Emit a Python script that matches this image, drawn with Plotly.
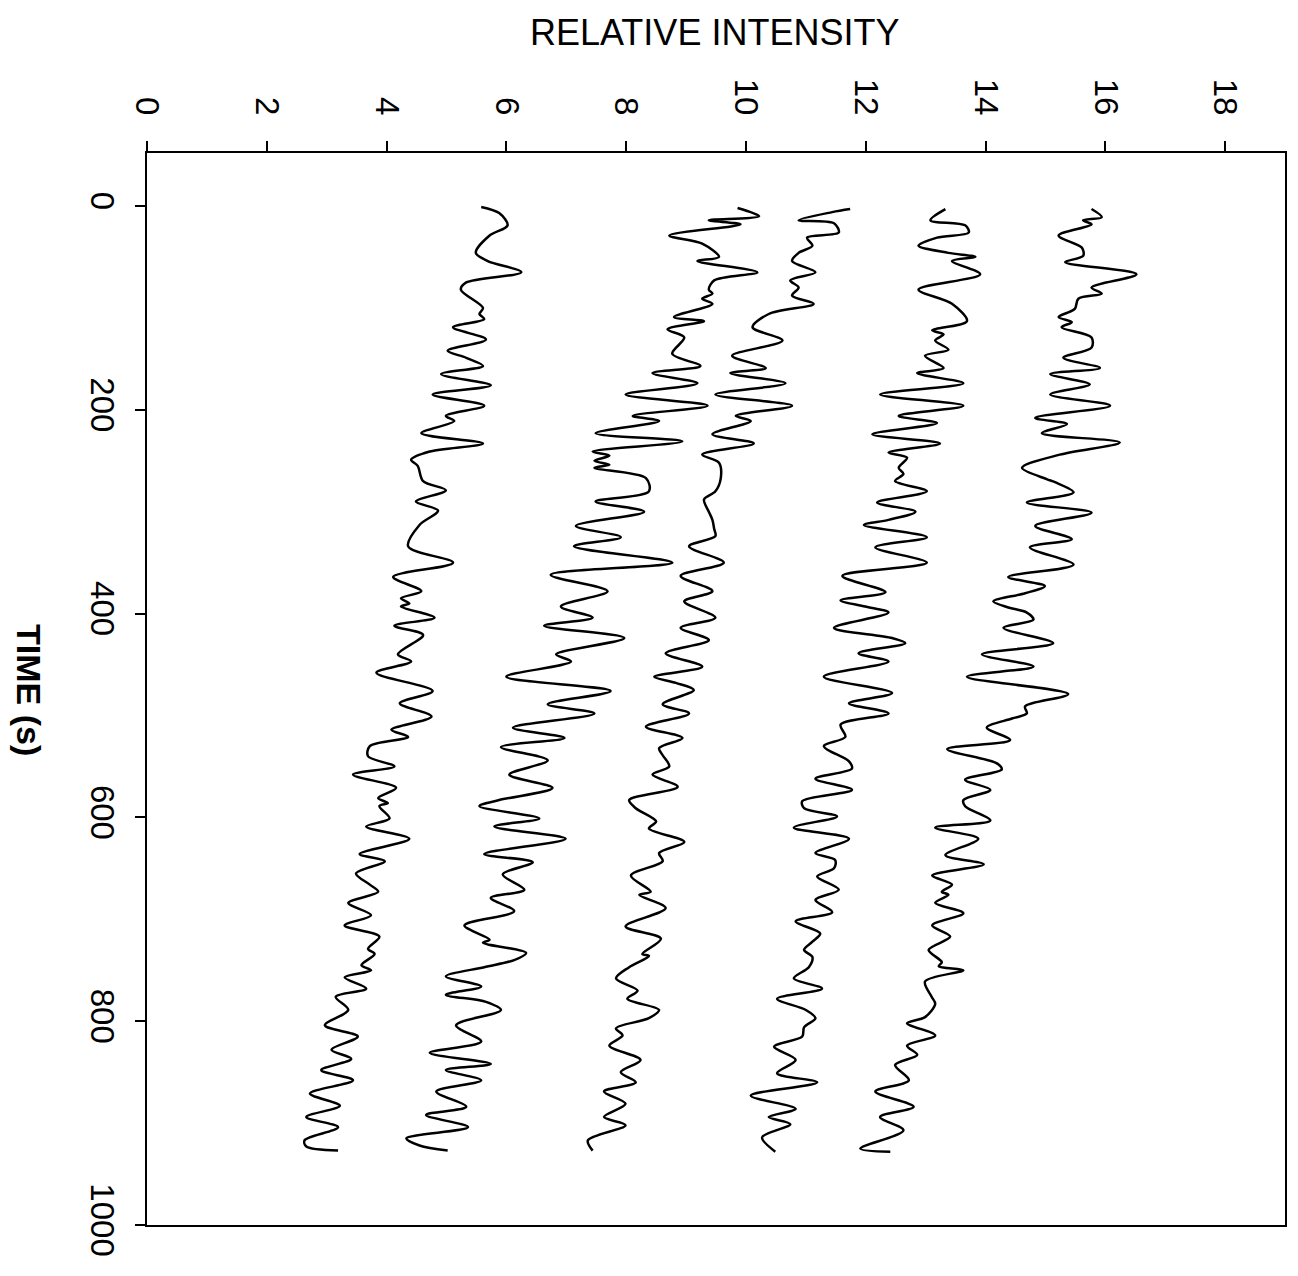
import plotly.graph_objects as go

# ---- data (time in s, relative intensity) ----
t1 = [3,11,14,18,29,41,49,55,67,80,86,91,101,109,114,119,129,139,149,
      159,165,175,185,196,208,214,223,232,244,257,268,271,281,291,301,
      314,327,335,352,364,373,380,388,394,399,406,414,429,440,452,462,
      479,491,498,503,512,524,533,547,553,563,573,583,589,603,610,621,
      637,646,657,666,673,676,684,694,706,717,730,742,746,750,761,776,
      783,796,802,814,824,833,843,858,869,884,894,907,925,928]
v1 = [15.77,15.94,15.63,15.77,15.22,15.61,15.63,15.33,16.52,15.77,15.94,15.55,15.49,15.22,15.44,15.27,15.77,15.77,15.30,
      15.91,15.08,15.74,15.08,16.08,14.83,15.36,14.94,16.24,15.24,14.61,15.02,15.16,15.47,14.69,15.77,
      14.83,15.44,14.74,15.47,14.38,14.99,14.66,14.13,14.38,14.69,14.80,14.30,15.13,13.94,14.80,13.69,
      15.38,14.66,14.69,14.44,14.02,14.41,13.36,14.19,14.27,13.66,14.08,13.63,13.66,14.08,13.16,13.88,
      13.33,13.97,13.11,13.44,13.27,13.38,13.16,13.63,13.11,13.41,13.05,13.27,13.22,13.63,12.99,13.10,
      13.16,12.99,12.69,13.16,12.69,12.86,12.49,12.72,12.16,12.80,12.24,12.63,11.91,12.41]

t2 = [3,14,19,26,31,39,46,50,54,67,82,96,113,122,126,132,141,147,
      159,164,174,185,196,206,213,224,233,242,247,257,263,270,280,291,300,308,
      313,325,335,350,363,379,387,393,399,414,424,429,439,447,462,
      478,488,498,509,521,530,545,552,562,573,584,591,599,610,621,
      635,642,650,658,671,681,693,702,714,722,730,737,747,758,768,778,
      789,797,806,815,825,838,851,860,873,886,894,901,914,928]
v2 = [13.33,13.08,13.66,13.72,13.19,12.88,13.38,13.83,13.44,13.91,12.88,13.44,13.69,13.11,13.30,13.16,13.38,12.99,
      13.30,12.86,13.63,12.24,13.63,12.55,13.19,12.11,13.24,12.38,12.69,12.55,12.63,12.49,13.02,12.19,12.83,12.38,
      11.97,13.02,12.16,13.02,11.61,12.33,11.58,11.99,12.38,11.47,12.44,12.66,11.88,12.38,11.30,
      12.44,11.72,12.38,11.58,11.66,11.30,11.72,11.77,11.16,11.77,10.94,10.97,11.52,10.80,11.72,
      11.16,11.49,11.47,11.19,11.55,11.16,11.44,10.83,11.24,11.11,10.97,11.11,11.05,10.80,11.27,10.52,
      11.00,11.16,10.97,10.94,10.47,10.83,10.52,11.19,10.08,10.83,10.38,10.74,10.27,10.49]

t3 = [3,6,14,17,26,31,39,46,54,65,73,80,88,96,106,119,132,147,
      159,164,174,185,196,206,211,224,233,244,252,267,280,288,300,308,
      317,324,334,350,363,378,388,404,414,426,439,452,462,
      468,475,489,498,511,522,532,539,550,558,570,583,591,604,611,
      624,635,643,657,673,676,689,707,719,734,736,747,758,770,778,
      789,797,807,814,824,838,850,860,869,881,894,902,917,927]
v3 = [11.74,11.44,10.88,11.47,11.55,11.02,11.11,10.88,10.77,11.16,10.74,10.88,10.77,11.13,10.38,10.11,10.61,9.77,
      10.33,9.74,10.66,9.49,10.77,9.83,10.08,9.44,10.13,9.27,9.55,9.58,9.49,9.30,9.38,9.44,
      9.47,9.49,9.05,9.63,8.91,9.44,8.97,9.49,8.91,9.38,8.66,9.27,8.47,
      8.83,9.13,8.61,9.05,8.33,8.94,8.55,8.61,8.72,8.44,8.86,8.05,8.16,8.50,8.38,
      8.97,8.55,8.61,8.08,8.41,8.22,8.66,7.99,8.58,8.27,8.38,8.05,7.83,8.19,8.02,
      8.55,8.38,7.83,7.94,7.72,8.24,7.91,8.16,7.63,7.99,7.63,7.99,7.36,7.44]

t4 = [2,10,14,18,29,37,50,54,65,73,82,86,91,96,109,113,121,129,145,
      157,164,174,185,196,206,211,223,231,241,245,250,254,257,267,280,290,300,
      314,325,334,350,362,378,393,404,412,424,440,447,462,
      476,489,498,512,522,531,544,558,571,583,589,601,609,621,
      636,644,656,671,679,692,706,720,723,733,740,747,756,766,774,
      781,789,804,820,831,842,848,858,869,884,892,904,915,922,927]
v4 = [9.86,10.22,9.38,9.91,8.72,9.27,9.55,9.19,10.19,9.47,9.38,9.44,9.27,9.44,8.80,9.30,8.69,8.97,8.77,
      9.24,8.44,9.19,7.99,9.36,8.11,8.55,7.49,8.94,7.44,7.72,7.47,7.72,7.47,8.33,8.38,7.49,8.30,
      7.16,7.91,7.13,8.77,6.74,7.69,6.91,7.44,6.63,7.97,6.83,7.08,6.00,
      7.74,6.69,7.47,6.11,6.97,5.91,6.69,6.05,6.77,5.88,5.55,6.55,5.80,6.99,
      5.63,6.44,5.94,6.30,5.74,6.13,5.30,5.72,5.61,6.33,6.13,5.63,4.99,5.58,4.99,
      5.66,5.91,5.16,5.58,4.72,5.74,4.99,5.58,4.83,5.33,4.66,5.36,4.33,4.55,5.02]

t5 = [1,7,19,29,46,54,65,75,82,100,106,111,119,131,142,149,
      157,165,176,185,196,206,211,223,233,241,249,255,270,279,290,299,
      313,334,350,364,378,385,390,393,404,412,421,440,447,458,
      476,488,501,514,521,530,540,550,558,571,581,586,589,601,609,621,
      636,643,655,666,673,684,696,706,717,729,734,745,750,757,768,776,
      789,804,815,828,837,848,858,871,883,894,904,917,923,927]
v5 = [5.58,5.88,6.02,5.72,5.49,5.69,6.25,5.33,5.24,5.61,5.55,5.63,5.11,5.66,5.02,5.33,
      5.61,4.91,5.74,4.77,5.63,4.99,5.13,4.58,5.61,4.72,4.41,4.52,4.61,4.99,4.49,4.86,
      4.55,4.36,5.11,4.11,4.58,4.24,4.38,4.24,4.80,4.13,4.61,4.19,4.41,3.83,
      4.77,4.22,4.75,4.08,4.36,3.72,3.69,4.13,3.44,4.16,3.86,4.02,3.88,4.05,3.66,4.38,
      3.55,3.97,3.49,3.72,3.86,3.36,3.74,3.30,3.88,3.69,3.80,3.58,3.74,3.30,3.66,3.15,
      3.36,2.97,3.52,3.08,3.41,2.91,3.44,2.72,3.22,2.66,3.19,2.63,2.66,3.19]

intensity_ticks = [0, 2, 4, 6, 8, 10, 12, 14, 16, 18]
time_ticks = [0, 200, 400, 600, 800, 1000]

series = [(t1, v1), (t2, v2), (t3, v3), (t4, v4), (t5, v5)]

fig = go.Figure()
for tt, vv in series:
    fig.add_trace(go.Scatter(
        x=vv, y=tt, mode="lines",
        line=dict(color="black", width=2.5, shape="spline", smoothing=0.9),
        showlegend=False, hoverinfo="skip"))

FONT = "Arial, Liberation Sans, Helvetica, sans-serif"

fig.update_layout(
    width=1298, height=1276,
    margin=dict(l=147, r=11, t=153, b=51, pad=0),
    paper_bgcolor="white", plot_bgcolor="white",
    font=dict(family=FONT, color="black", size=26),
    xaxis=dict(
        side="top", range=[0, 19], tickmode="array", tickvals=intensity_ticks,
        ticks="outside", ticklen=10, tickwidth=2, tickcolor="black",
        tickangle=90, tickfont=dict(family=FONT, size=33, color="black"),
        ticklabelstandoff=14,
        showline=True, linecolor="black", linewidth=2, mirror=True,
        showgrid=False, zeroline=False),
    yaxis=dict(
        range=[1000, -52], tickmode="array", tickvals=time_ticks,
        ticks="outside", ticklen=10, tickwidth=2, tickcolor="black",
        tickangle=90, tickfont=dict(family=FONT, size=33, color="black"),
        ticklabelstandoff=4,
        showline=True, linecolor="black", linewidth=2, mirror=True,
        showgrid=False, zeroline=False),
    annotations=[
        dict(text="RELATIVE INTENSITY", xref="paper", yref="paper",
             x=0.499, y=1, yshift=121, showarrow=False,
             xanchor="center", yanchor="middle",
             font=dict(family=FONT, size=36, color="black")),
        dict(text="<b>TIME (s)</b>", xref="paper", yref="paper",
             x=0, xshift=-118, y=0.499, showarrow=False, textangle=90,
             xanchor="center", yanchor="middle",
             font=dict(family=FONT, size=34, color="black")),
    ],
)

fig.write_html("out.html")
